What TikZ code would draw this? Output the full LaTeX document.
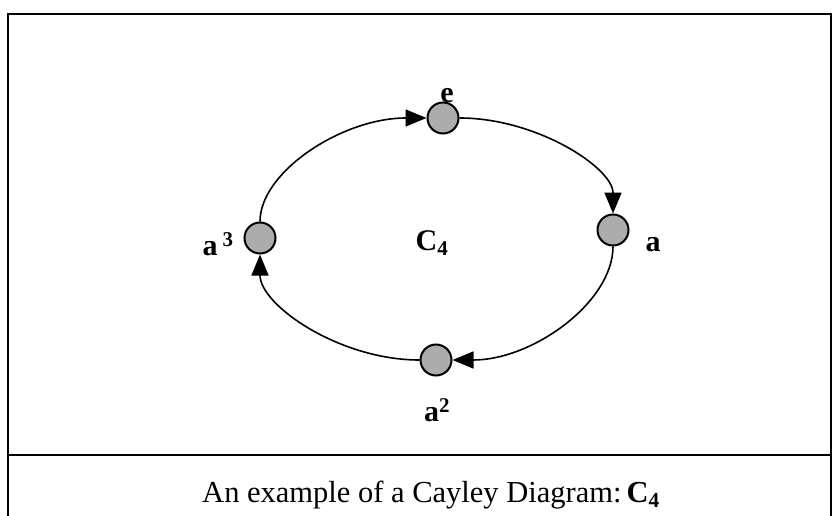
\documentclass[tikz,border=0pt]{standalone}
\usepackage{fontspec}
\setmainfont{Liberation Serif}
\usetikzlibrary{arrows.meta}

\begin{document}
\begin{tikzpicture}[x=1pt,y=-1pt,
  vert/.style={circle,draw,line width=2pt,fill=gray!65,minimum size=31pt,inner sep=0pt},
  lbl/.style={inner sep=0pt,font=\fontsize{30}{30}\selectfont\bfseries},
  captext/.style={inner sep=0pt,anchor=base,font=\fontsize{30.5}{30}\selectfont},
  framerule/.style={line width=2.2pt},
  arr/.style={-{Triangle[length=21pt,width=17pt]},line width=1.6pt}]
\useasboundingbox (0,0) rectangle (835,516);
% frame and caption rule
\draw[framerule] (8,516) -- (8,14) -- (831,14) -- (831,516);
\draw[framerule] (8,455) -- (831,455);
% group elements
\foreach \n/\p in {e/{443,118},a/{613,230},a2/{436,360},a3/{260,238}}
  {\node[vert] (\n) at (\p) {};}
\node[lbl] (le) at (447,96) {e};
\node[lbl] (la) at (653,245) {a};
\node[lbl] (la2) at (437,410) {a\textsuperscript{2}};
\node[lbl] (la3) at (218,244) {a\,\textsuperscript{3}};
\node[lbl] (grp) at (432,243) {C\textsubscript{4}};
% generator a
\draw[arr] (a3) .. controls +(0,-66) and +(-101,0) .. (e);
\draw[arr] (e) .. controls +(94,0) and +(0,-62) .. (a);
\draw[arr] (a) .. controls +(0,72) and +(97,0) .. (a2);
\draw[arr] (a2) .. controls +(-97,0) and +(0,67) .. (a3);
\node[captext] (title) at (431,502) {An example of a Cayley Diagram:\,\textbf{C\textsubscript{4}}};
\end{tikzpicture}
\end{document}
